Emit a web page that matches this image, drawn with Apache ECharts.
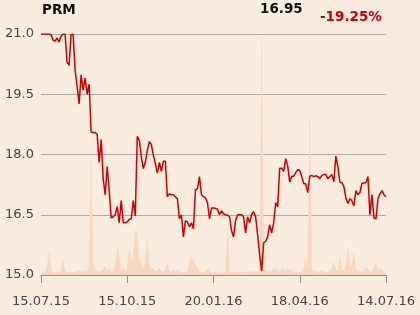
<!DOCTYPE html>
<html>
<head>
<meta charset="utf-8">
<script src="https://cdn.jsdelivr.net/npm/echarts@6/dist/echarts.min.js"></script>
<style>
  html, body { margin: 0; padding: 0; background: #fbece0; }
  #chart { width: 420px; height: 315px; }
</style>
</head>
<body>
<div id="chart"></div>
<script>
const ticker = 'PRM';
const lastPrice = '16.95';
const changePct = '-19.25%';
const tickLabels = ['15.07.15', '15.10.15', '20.01.16', '18.04.16', '14.07.16'];

const price = [
  21.0, 21.0, 21.0, 21.0, 21.0,
  20.98, 20.85, 20.82, 20.9, 20.8,
  20.95, 21.0, 21.0, 20.3, 20.22,
  20.98, 21.0, 20.1, 19.7, 19.26,
  19.98, 19.6, 19.9, 19.5, 19.75,
  18.56, 18.55, 18.55, 18.5, 17.8,
  18.37, 17.4, 17.0, 17.7, 17.1,
  16.42, 16.45, 16.5, 16.7, 16.3,
  16.85, 16.3, 16.3, 16.32, 16.38,
  16.4, 16.85, 16.47, 18.45, 18.35,
  17.95, 17.65, 17.8, 18.1, 18.32,
  18.25, 17.98, 17.78, 17.54, 17.8,
  17.58, 17.83, 17.83, 16.95, 17.02,
  17.0, 17.0, 16.95, 16.9, 16.4,
  16.5, 15.95, 16.35, 16.32, 16.2,
  16.3, 16.15, 17.12, 17.15, 17.45,
  17.0, 16.95, 16.92, 16.8, 16.4,
  16.67, 16.67, 16.66, 16.64, 16.5,
  16.6, 16.52, 16.5, 16.49, 16.45,
  16.1, 15.95, 16.35, 16.5, 16.5,
  16.5, 16.45, 16.05, 16.45, 16.3,
  16.5, 16.58, 16.45, 16.0, 15.5,
  15.1, 15.8, 15.84, 15.95, 16.25,
  16.05, 16.3, 16.8, 16.7, 17.66,
  17.66, 17.58, 17.9, 17.71, 17.31,
  17.46, 17.46, 17.55, 17.62, 17.6,
  17.45, 17.27, 17.27, 17.05, 17.46,
  17.48, 17.45, 17.47, 17.45, 17.4,
  17.48, 17.5, 17.5, 17.4, 17.45,
  17.5, 17.32, 17.96, 17.7, 17.31,
  17.3, 17.2, 16.92, 16.78, 16.9,
  16.85, 16.72, 17.1, 17.0, 17.05,
  17.28, 17.29, 17.3, 17.45, 16.5,
  17.0, 16.42, 16.4, 16.9, 17.02,
  17.1, 17.0, 16.95
];

const volume = [
  2, 3, 3, 8, 22, 6, 2, 2, 3, 2,
  4, 15, 4, 2, 2, 3, 2, 3, 4, 5,
  3, 4, 3, 4, 10, 115, 12, 4, 5, 3,
  4, 6, 9, 4, 7, 3, 4, 10, 29, 18,
  5, 8, 4, 6, 26, 12, 20, 45, 42, 14,
  14, 6, 12, 35, 9, 5, 7, 4, 3, 7,
  3, 4, 5, 11, 4, 3, 5, 3, 5, 2,
  3, 2, 3, 4, 12, 18, 14, 10, 8, 3,
  3, 2, 3, 6, 3, 2, 2, 3, 2, 2,
  3, 2, 4, 47, 4, 2, 3, 2, 2, 3,
  2, 3, 2, 3, 4, 3, 3, 4, 3, 6,
  238, 6, 5, 4, 3, 5, 6, 7, 5, 4,
  5, 6, 4, 7, 5, 4, 3, 2, 3, 2,
  3, 6, 17, 5, 158, 6, 3, 4, 2, 3,
  5, 3, 2, 3, 4, 6, 13, 5, 4, 17,
  5, 4, 10, 28, 8, 10, 24, 6, 4, 3,
  3, 5, 8, 6, 3, 4, 7, 12, 5, 7,
  4, 3, 2
];

const N = price.length;
const step = (N - 1) / (tickLabels.length - 1);

const chart = echarts.init(document.getElementById('chart'), null, { renderer: 'canvas' });
const hdrFont = 'bold 13.5px "DejaVu Sans", sans-serif';

chart.setOption({
  backgroundColor: '#fbece0',
  animation: false,
  grid: { left: 41, right: 34, top: 34, bottom: 40, containLabel: false },
  graphic: [
    { type: 'text', left: 42, top: 3, style: { text: ticker, font: hdrFont, fill: '#111' } },
    { type: 'text', left: 260, top: 2, style: { text: lastPrice, font: hdrFont, fill: '#111' } },
    { type: 'text', left: 320, top: 10, style: { text: changePct, font: hdrFont, fill: '#cc0000' } }
  ],
  xAxis: {
    type: 'value',
    min: 0,
    max: N - 1,
    interval: step,
    splitLine: { show: false },
    axisLine: { show: true, lineStyle: { color: '#8c8c8c', width: 1 } },
    axisTick: { show: true, length: 8, lineStyle: { color: '#8c8c8c', width: 1 } },
    axisLabel: {
      margin: 20,
      color: '#444',
      fontSize: 13,
      fontFamily: '"DejaVu Sans", sans-serif',
      formatter: v => tickLabels[Math.round(v / step)] || ''
    }
  },
  yAxis: [
    {
      type: 'value',
      min: 15,
      max: 21,
      interval: 1.5,
      axisLine: { show: false },
      axisTick: { show: false },
      splitLine: { show: true, lineStyle: { color: '#b0aaa6', width: 1 } },
      axisLabel: {
        margin: 7,
        color: '#444',
        fontSize: 13,
        fontFamily: '"DejaVu Sans", sans-serif',
        formatter: v => v.toFixed(1)
      }
    },
    {
      type: 'value',
      min: 0,
      max: 241,
      show: false,
      splitLine: { show: false }
    }
  ],
  series: [
    {
      type: 'line',
      yAxisIndex: 1,
      data: volume.map((v, i) => [i, v]),
      symbol: 'none',
      lineStyle: { width: 0.5, color: '#f6d8c2' },
      areaStyle: { color: '#f6d8c2', opacity: 1 },
      z: 1
    },
    {
      type: 'line',
      yAxisIndex: 0,
      data: price.map((v, i) => [i, v]),
      symbol: 'none',
      lineStyle: { width: 1.5, color: '#cc0000' },
      z: 3
    }
  ]
});
</script>
</body>
</html>
